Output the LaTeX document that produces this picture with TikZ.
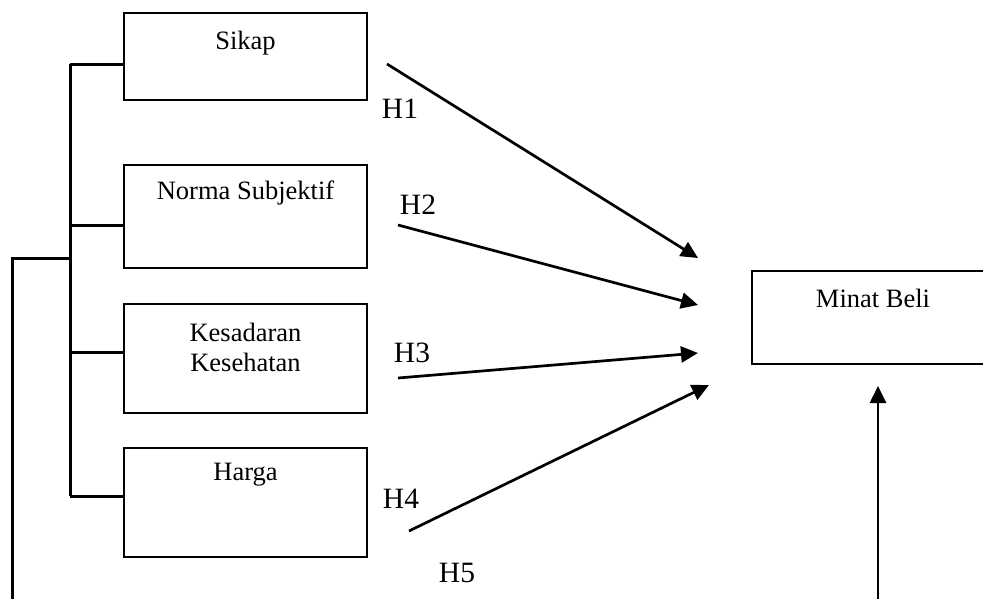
\documentclass[tikz,border=0pt]{standalone}
\usepackage{fontspec}
\setmainfont{Liberation Serif}
\usetikzlibrary{arrows.meta}
\begin{document}
\begin{tikzpicture}[x=1pt,y=-1pt,
  varbox/.style={draw,line width=2pt,inner sep=0pt,minimum width=243pt,minimum height=87pt},
  boxtext/.style={font=\fontsize{26.5}{30}\selectfont,align=center},
  hlabel/.style={font=\fontsize{29.5}{32}\selectfont,inner sep=0pt},
  link/.style={line width=3pt},
  arr/.style={line width=2.7pt,-{Triangle[length=17pt,width=16pt]}}]
\useasboundingbox (0,0) rectangle (983,598);
% boxes
\node[varbox,minimum height=87pt] (sikap) at (245.5,56.5) {};
\node[boxtext] (tsikap) at (245.5,43) {Sikap};
\node[varbox,minimum height=103pt] (norma) at (245.5,216.5) {};
\node[boxtext] (tnorma) at (245.5,193) {Norma Subjektif};
\node[varbox,minimum height=109pt] (kes) at (245.5,358.5) {};
\node[boxtext,text width=243pt] (tkes) at (245.5,347) {Kesadaran\\Kesehatan};
\node[varbox,minimum height=109pt] (harga) at (245.5,502.5) {};
\node[boxtext] (tharga) at (245.5,475) {Harga};
\node[varbox,minimum width=242pt,minimum height=93pt] (minat) at (873,317.5) {};
\node[boxtext] (tminat) at (873,298) {Minat Beli};
% tree
\coordinate (t1) at (70,64);
\coordinate (t2) at (70,225);
\coordinate (t3) at (70,352);
\coordinate (t4) at (70,496);
\coordinate (tj) at (70,258);
\coordinate (o1) at (12,258);
\coordinate (o2) at (12,600);
\draw[link] (t1) -- (t4);
\draw[link] (t1) -- (sikap.west |- t1);
\draw[link] (t2) -- (norma.west |- t2);
\draw[link] (t3) -- (kes.west |- t3);
\draw[link] (t4) -- (harga.west |- t4);
\draw[link] (tj) -- (o1) -- (o2);
% arrows
\coordinate (a1s) at (387,64);  \coordinate (a1e) at (698,258);
\coordinate (a2s) at (398,225); \coordinate (a2e) at (698,305);
\coordinate (a3s) at (398,378); \coordinate (a3e) at (698,353);
\coordinate (a4s) at (409,531); \coordinate (a4e) at (709,385);
\coordinate (a5s) at (878,600); \coordinate (a5e) at (878,386);
\draw[arr] (a1s) -- (a1e);
\draw[arr] (a2s) -- (a2e);
\draw[arr] (a3s) -- (a3e);
\draw[arr] (a4s) -- (a4e);
\draw[arr] (a5s) -- (a5e);
% labels
\node[hlabel] (h1) at (400,109) {H1};
\node[hlabel] (h2) at (418,205) {H2};
\node[hlabel] (h3) at (412,353) {H3};
\node[hlabel] (h4) at (401,499) {H4};
\node[hlabel] (h5) at (457,573) {H5};
\end{tikzpicture}
\end{document}
